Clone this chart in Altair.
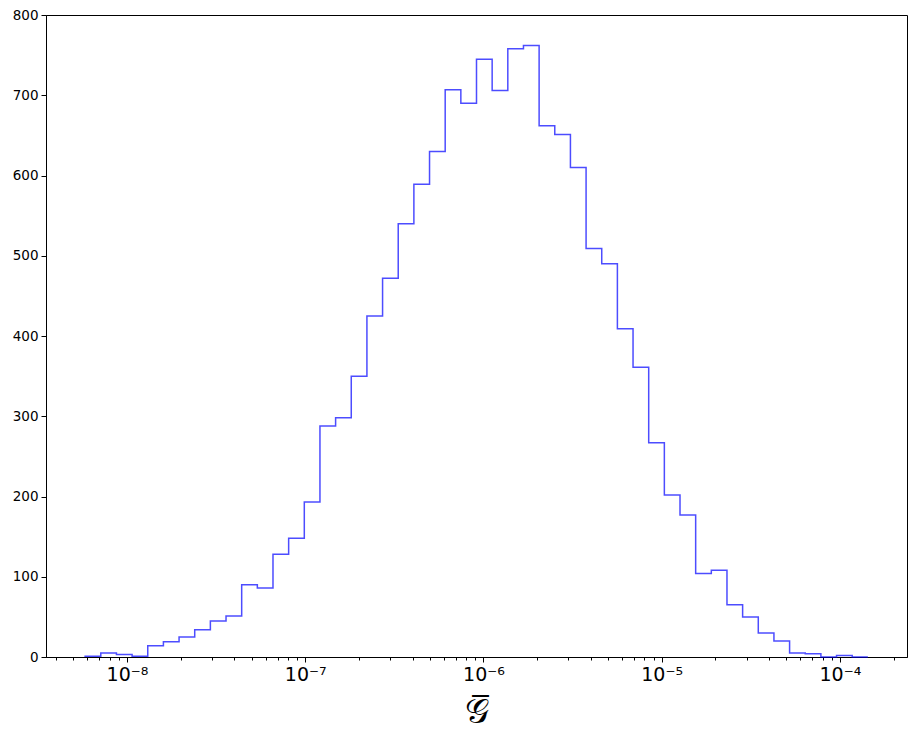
import altair as alt
import numpy as np
import pandas as pd

# Histogram counts per log-spaced bin (50 bins)
counts = [1, 5, 3, 1, 14, 19, 25, 34, 45, 51,
          90, 86, 128, 148, 193, 288, 298, 350, 425, 472,
          540, 589, 630, 707, 690, 745, 706, 758, 762, 662,
          651, 610, 509, 490, 409, 361, 267, 202, 177, 104,
          108, 65, 50, 30, 20, 5, 4, 0, 2, 0]
log_lo = -8.235   # log10 of the first bin edge
log_hi = -3.843   # log10 of the last bin edge

major_ticks = [1e-8, 1e-7, 1e-6, 1e-5, 1e-4]
major_labels = ["10⁻⁸", "10⁻⁷", "10⁻⁶", "10⁻⁵", "10⁻⁴"]
y_ticks = [0, 100, 200, 300, 400, 500, 600, 700, 800]

edges = np.logspace(log_lo, log_hi, len(counts) + 1)
span = log_hi - log_lo
dom = [10 ** (log_lo - 0.05 * span), 10 ** (log_hi + 0.05 * span)]

minor_ticks = [k * 10.0 ** d for d in range(-9, -3) for k in range(2, 10)
               if dom[0] <= k * 10.0 ** d <= dom[1]]

xs = [edges[0]] + list(edges[:-1]) + [edges[-1], edges[-1]]
ys = [0] + counts + [counts[-1], 0]
df = pd.DataFrame({"x": xs, "y": ys, "i": range(len(xs))})

W, H = 861, 642

label_expr = " : ".join(
    f"datum.value < {v * 3:.0e} ? '{l}'" for v, l in zip(major_ticks[:-1], major_labels[:-1])
) + f" : '{major_labels[-1]}'"

xscale = alt.Scale(type="log", domain=dom, nice=False)

line = alt.Chart(df).mark_line(
    interpolate="step-after", color="blue", opacity=0.7, strokeWidth=1.5
).encode(
    x=alt.X("x:Q", scale=xscale,
            axis=alt.Axis(values=major_ticks, labelExpr=label_expr, title=None,
                          orient="bottom", grid=False, tickSize=5, labelFontSize=19,
                          labelPadding=3, labelFont="DejaVu Sans", labelColor="black",
                          tickColor="black", domainColor="black", labelFlush=False)),
    y=alt.Y("y:Q", scale=alt.Scale(domain=[0, 800], nice=False),
            axis=alt.Axis(values=y_ticks, title=None, grid=False, tickSize=5,
                          labelFontSize=13.5, labelPadding=3, labelFont="DejaVu Sans",
                          labelColor="black", tickColor="black", domainColor="black")),
    order="i:Q",
)

minor_df = pd.DataFrame({"x": [minor_ticks[0]]})
minor = alt.Chart(minor_df).mark_point(opacity=0).encode(
    x=alt.X("x:Q", scale=xscale,
            axis=alt.Axis(values=minor_ticks, labels=False, title=None, orient="bottom",
                          grid=False, tickSize=3, tickColor="black", domain=False)),
    y=alt.value(0),
)

title_df = pd.DataFrame({"t": ["𝒢̅"]})
title = alt.Chart(title_df).mark_text(
    fontSize=34, font="DejaVu Serif", color="black",
    baseline="middle", align="center"
).encode(
    text="t:N", x=alt.value(W / 2), y=alt.value(H + 56)
)

chart = alt.layer(line, minor, title).resolve_axis(x="independent").properties(
    width=W, height=H,
    autosize=alt.AutoSizeParams(type="none"),
    padding={"left": 38, "top": 7, "right": 2, "bottom": 75},
    background="white",
).configure_view(stroke="black", strokeWidth=1)

chart.save("out.html", embed_options={"renderer": "svg", "actions": False})
